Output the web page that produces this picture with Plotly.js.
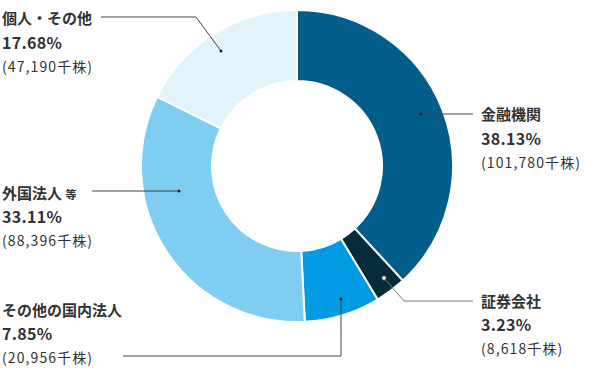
<!DOCTYPE html>
<html><head><meta charset="utf-8">
<script src="https://cdn.plot.ly/plotly-3.0.1.min.js"></script>
<style>html,body{margin:0;padding:0;background:#fff}</style>
</head><body><div id="chart" style="width:600px;height:370px"></div>
<script>
const labels = ["金融機関", "証券会社", "その他の国内法人", "外国法人 等", "個人・その他"];
const shares = [101780, 8618, 20956, 88396, 47190]; // 千株
const colors = ["#015e8a", "#062b3b", "#009be3", "#80cdf2", "#e2f3fb"];

const W = 600, H = 370;
const px = x => x / W, py = y => 1 - y / H;
const total = shares.reduce((a, b) => a + b, 0);
const pctText = shares.map(v => (v / total * 100).toFixed(2) + "%");
const shareText = shares.map(v => "<span style='letter-spacing:1.1px'>(" + v.toLocaleString("en-US") + "千株)</span>");

// label placement (pixels): [x, y of first line], leader path, dot
const labelPos = [[479, 114], [479, 300], [0, 309], [0, 192], [0, 18]];
const leaders = [
  [[421, 114], [473, 114]],
  [[384, 278], [404, 301], [473, 301]],
  [[341, 299], [341, 356], [123, 356]],
  [[179, 191], [92, 191]],
  [[221, 51], [196, 17], [101, 17]]
];
const openDot = [false, true, false, false, false];

const font = "'Noto Sans CJK JP', 'Noto Sans', sans-serif";
const annotations = [];
labels.forEach((lab, i) => {
  const [x, y] = labelPos[i];
  let t = lab;
  if (lab.endsWith(" 等")) t = lab.replace(" 等", " <span style='font-size:11px'>等</span>");
  annotations.push({xref: "paper", yref: "paper", x: px(x), y: py(y), xanchor: "left", yanchor: "middle",
    text: "<b>" + t + "</b>", showarrow: false, font: {family: font, size: 15, color: "#333"}});
  annotations.push({xref: "paper", yref: "paper", x: px(x), y: py(y + 24), xanchor: "left", yanchor: "middle",
    text: "<b><span style='letter-spacing:0.3px'>" + pctText[i] + "</span></b>", showarrow: false, font: {family: font, size: 16, color: "#333"}});
  annotations.push({xref: "paper", yref: "paper", x: px(x), y: py(y + 48), xanchor: "left", yanchor: "middle",
    text: shareText[i], showarrow: false, font: {family: font, size: 14, color: "#333"}});
});

const shapes = [];
leaders.forEach((pts, i) => {
  const d = pts.map((p, k) => (k ? "L" : "M") + px(p[0]) + "," + py(p[1])).join(" ");
  shapes.push({type: "path", xref: "paper", yref: "paper", path: d,
    line: {color: openDot[i] ? "#777" : "#444", width: 1}});
  const [cx, cy] = pts[0];
  const r = openDot[i] ? 2.2 : 1.5;
  shapes.push({type: "circle", xref: "paper", yref: "paper",
    x0: px(cx - r), x1: px(cx + r), y0: py(cy + r), y1: py(cy - r),
    fillcolor: openDot[i] ? "#fff" : "#222", line: {color: openDot[i] ? "#555" : "#222", width: openDot[i] ? 1 : 0}});
});

const cx = 297, cy = 166, R = 156;
const data = [{
  type: "pie", labels: labels, values: shares, sort: false, direction: "clockwise", rotation: 0,
  hole: 0.545, textinfo: "none", hoverinfo: "none",
  marker: {colors: colors, line: {color: "#fff", width: 2}},
  domain: {x: [px(cx - R), px(cx + R)], y: [py(cy + R), py(cy - R)]}
}];
const layout = {width: W, height: H, margin: {l: 0, r: 0, t: 0, b: 0}, showlegend: false,
  paper_bgcolor: "#fff", annotations: annotations, shapes: shapes};
Plotly.newPlot("chart", data, layout, {staticPlot: true, displayModeBar: false});
</script></body></html>
